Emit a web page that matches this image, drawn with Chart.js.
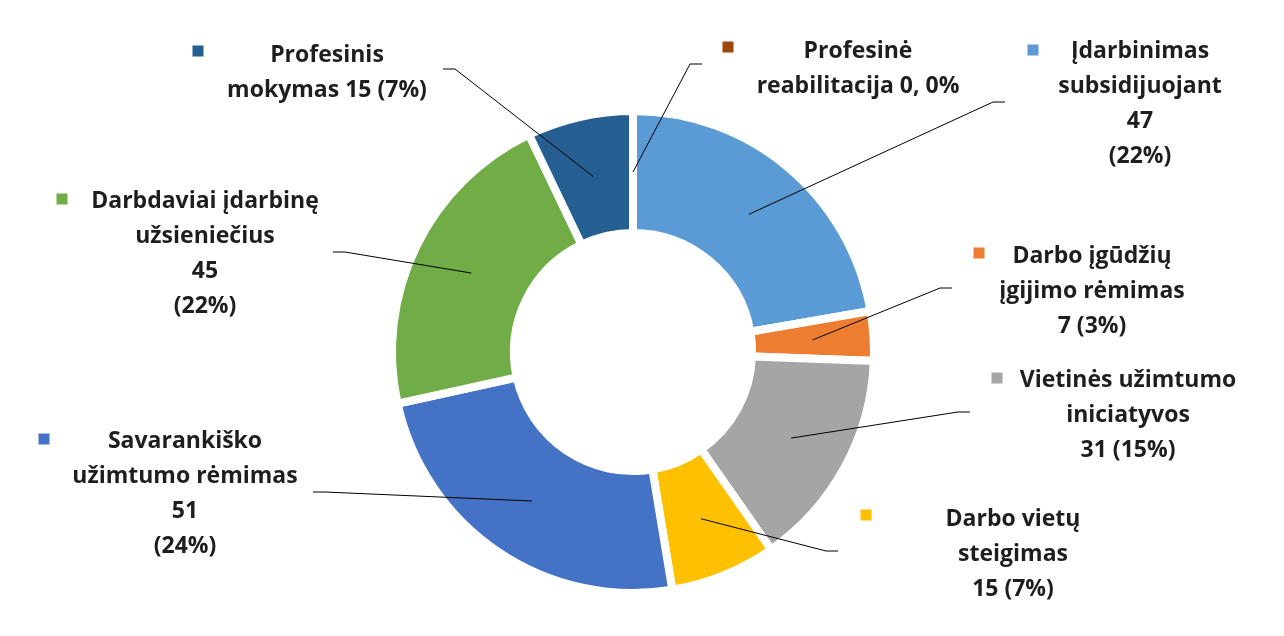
<!DOCTYPE html>
<html>
<head>
<meta charset="utf-8">
<script src="https://cdn.jsdelivr.net/npm/chart.js@4.4.1/dist/chart.umd.min.js"></script>
<style>
  html, body { margin: 0; padding: 0; background: #ffffff; }
  canvas { display: block; }
</style>
</head>
<body>
<canvas id="c" width="1284" height="636"></canvas>
<script>
// ---- data ----
const categories = [
  'Įdarbinimas subsidijuojant',
  'Darbo įgūdžių įgijimo rėmimas',
  'Vietinės užimtumo iniciatyvos',
  'Darbo vietų steigimas',
  'Savarankiško užimtumo rėmimas',
  'Darbdaviai įdarbinę užsieniečius',
  'Profesinis mokymas',
  'Profesinė reabilitacija'
];
const values = [47, 7, 31, 15, 51, 45, 15, 0];
const labelTexts = [
  ['Įdarbinimas', 'subsidijuojant', '47', '(22%)'],
  ['Darbo įgūdžių', 'įgijimo rėmimas', '7 (3%)'],
  ['Vietinės užimtumo', 'iniciatyvos', '31 (15%)'],
  ['Darbo vietų', 'steigimas', '15 (7%)'],
  ['Savarankiško', 'užimtumo rėmimas', '51', '(24%)'],
  ['Darbdaviai įdarbinę', 'užsieniečius', '45', '(22%)'],
  ['Profesinis', 'mokymas 15 (7%)'],
  ['Profesinė', 'reabilitacija 0, 0%']
];
const colors = ['#5B9BD5', '#ED7D31', '#A5A5A5', '#FFC000', '#4472C4', '#70AD47', '#255E91', '#9E480E'];

// ---- label layout (square marker, text centre x, first baseline, leader elbow, leader end x) ----
const labelLayout = [
  { sq: [1033, 50], cx: 1140, y: 58,  elbow: [993, 102], endX: 1005 },
  { sq: [979, 253], cx: 1092, y: 263, elbow: [940, 288], endX: 952 },
  { sq: [997, 378], cx: 1128, y: 387, elbow: [958, 412], endX: 970 },
  { sq: [866, 515], cx: 1013, y: 526, elbow: [826, 551], endX: 838 },
  { sq: [44, 439],  cx: 185,  y: 448, elbow: [325, 492], endX: 313 },
  { sq: [62, 199],  cx: 205,  y: 208, elbow: [345, 252], endX: 333 },
  { sq: [198, 51],  cx: 327,  y: 62,  elbow: [455, 69],  endX: 443 },
  { sq: [728, 47],  cx: 858,  y: 58,  elbow: [690, 64],  endX: 702 }
];
const LINE_H = 35;
const FONT = 'bold 23px "Open Sans", Lato, sans-serif';

const labelPlugin = {
  id: 'outLabels',
  afterDatasetsDraw(chart) {
    const ctx = chart.ctx;
    const meta = chart.getDatasetMeta(0);
    ctx.save();
    meta.data.forEach((arc, i) => {
      const p = arc.getProps(['x', 'y', 'startAngle', 'endAngle', 'innerRadius', 'outerRadius'], true);
      const mid = (p.startAngle + p.endAngle) / 2;
      const r = (p.innerRadius + p.outerRadius) / 2;
      const ax = p.x + Math.cos(mid) * r;
      const ay = p.y + Math.sin(mid) * r;
      const L = labelLayout[i];
      // leader line
      ctx.beginPath();
      ctx.strokeStyle = '#000000';
      ctx.lineWidth = 1;
      ctx.moveTo(ax, ay);
      ctx.lineTo(L.elbow[0], L.elbow[1]);
      ctx.lineTo(L.endX, L.elbow[1]);
      ctx.stroke();
      // square marker
      ctx.fillStyle = colors[i];
      ctx.fillRect(L.sq[0] - 5.5, L.sq[1] - 5.5, 11, 11);
      // text
      ctx.fillStyle = '#1e1e1e';
      ctx.font = FONT;
      ctx.textAlign = 'center';
      ctx.textBaseline = 'alphabetic';
      labelTexts[i].forEach((t, k) => {
        ctx.fillText(t, L.cx, L.y + k * LINE_H);
      });
    });
    ctx.restore();
  }
};

new Chart(document.getElementById('c'), {
  type: 'doughnut',
  data: {
    labels: categories,
    datasets: [{
      data: values,
      backgroundColor: colors,
      borderColor: '#ffffff',
      borderWidth: 8,
      borderJoinStyle: 'miter',
      hoverOffset: 0
    }]
  },
  options: {
    responsive: false,
    animation: false,
    cutout: '49.4%',
    layout: { padding: { left: 388, right: 406, top: 107, bottom: 39 } },
    plugins: {
      legend: { display: false },
      tooltip: { enabled: false }
    }
  },
  plugins: [labelPlugin]
});
</script>
</body>
</html>
